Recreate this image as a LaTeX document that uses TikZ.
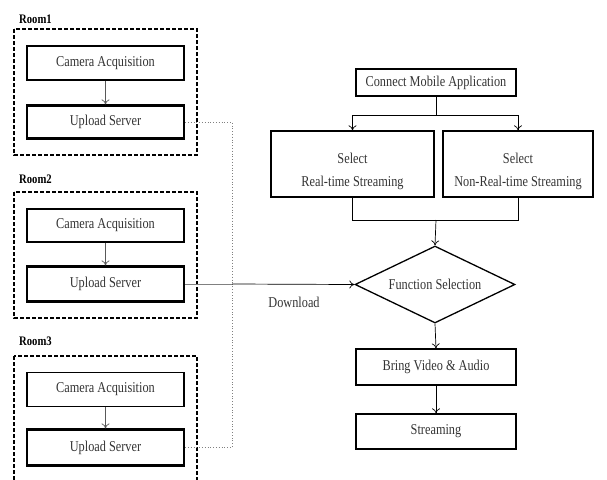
\documentclass[tikz,border=0pt]{standalone}
\usepackage{fontspec}
\setmainfont[FakeStretch=0.82]{Liberation Serif}
\usetikzlibrary{shapes.geometric,arrows.meta}
\begin{document}
\begin{tikzpicture}[x=1pt,y=-1pt,
  txt/.style={inner sep=0pt,text=black!80,font=\fontsize{15}{23}\selectfont,align=center},
  box/.style={draw,line width=1.3pt,minimum width=157pt,inner sep=0pt,txt},
  upbox/.style={box,line width=2.2pt},
  fbox/.style={draw,line width=1.3pt,txt},
  room/.style={draw,line width=1.3pt,dash pattern=on 4pt off 2pt},
  roomlbl/.style={anchor=west,inner sep=0pt,font=\bfseries\fontsize{13}{15}\selectfont},
  arr/.style={-{To[length=5pt,width=8pt]},line width=0.7pt},
  gline/.style={draw=gray,line width=0.8pt,dotted}
]
\useasboundingbox (0,0) rectangle (607,479);
\clip (0,0) rectangle (607,479);
% rooms
\draw[room] (14,29) rectangle (197,155);
\draw[room] (14,192) rectangle (197,318);
\draw[room] (14,356) rectangle (197,495);
\node[roomlbl] (r1) at (19,19) {Room1};
\node[roomlbl] (r2) at (19,179) {Room2};
\node[roomlbl] (r3) at (19,341) {Room3};
\node[box,minimum height=34pt] (c1) at (105.5,63) {Camera Acquisition};
\node[upbox,minimum height=33pt] (u1) at (105.5,122) {Upload Server};
\node[box,minimum height=33pt] (c2) at (105.5,225.5) {Camera Acquisition};
\node[upbox,minimum height=35pt] (u2) at (105.5,284) {Upload Server};
\node[box,minimum height=34pt] (c3) at (105.5,389.5) {Camera Acquisition};
\node[upbox,minimum height=36pt] (u3) at (105.5,447.5) {Upload Server};
\draw[arr,gray!70!black] (c1) -- (u1);
\draw[arr,gray!70!black] (c2) -- (u2);
\draw[arr,gray!70!black] (c3) -- (u3);
% right flow
\node[fbox,minimum width=160pt,minimum height=27pt] (cm) at (436,82.5) {Connect Mobile Application};
\node[draw,line width=1.3pt,minimum width=163pt,minimum height=66pt] (rt) at (352.5,164) {};
\node[txt] (rtt) at (352.5,171) {Select\\Real-time Streaming};
\node[draw,line width=1.3pt,minimum width=150pt,minimum height=66pt] (nrt) at (518,164) {};
\node[txt] (nrtt) at (518,171) {Select\\Non-Real-time Streaming};
\node[draw,diamond,aspect=2.08,line width=1.3pt,inner sep=0pt,minimum width=160pt,minimum height=77pt] (fs) at (435,284.5) {};
\node[txt] (fst) at (fs.center) {Function Selection};
\node[fbox,minimum width=160pt,minimum height=36pt] (bv) at (436,367) {Bring Video \& Audio};
\node[fbox,minimum width=160pt,minimum height=35pt] (st) at (436,431.5) {Streaming};
\coordinate (sp) at (436,115);
\coordinate (mg) at (436,220);
\draw[line width=0.7pt] (cm.south) -- (sp);
\draw[arr] (sp) -| (rt.north);
\draw[arr] (sp) -| (nrt.north);
\draw[line width=0.7pt] (rt.south) |- (mg);
\draw[line width=0.7pt] (nrt.south) |- (mg);
\draw[arr] (mg) -- (fs.north);
\draw[arr] (fs.south) -- (bv.north);
\draw[arr] (bv.south) -- (st.north);
% connectors from rooms
\coordinate (jx) at (232,284);
\draw[gline] (u1.east) -| (jx);
\draw[gline] (u3.east) -| (jx);
\draw[draw=gray,line width=0.8pt] (u2.east) -- (jx);
\draw[arr] (jx) -- (fs.west);
\node[txt] (dl) at (294,302) {Download};
\end{tikzpicture}
\end{document}
